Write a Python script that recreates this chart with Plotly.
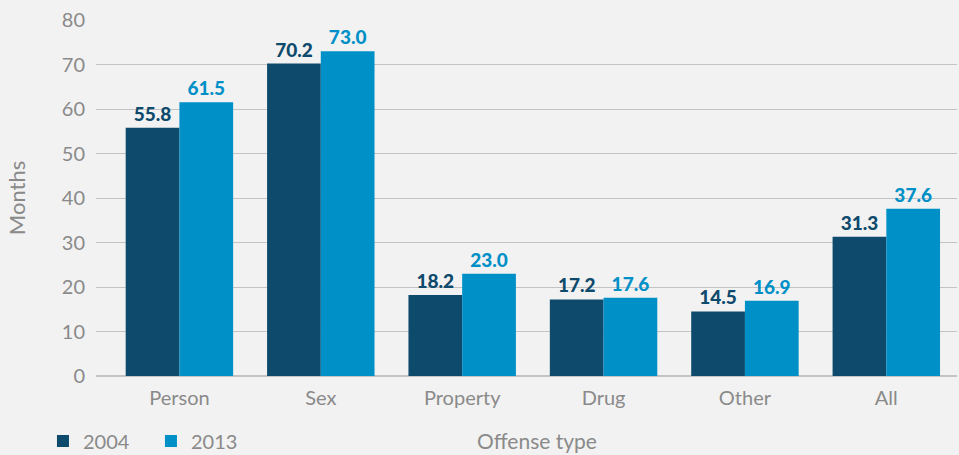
import plotly.graph_objects as go

categories = ["Person", "Sex", "Property", "Drug", "Other", "All"]
values_2004 = [55.8, 70.2, 18.2, 17.2, 14.5, 31.3]
values_2013 = [61.5, 73.0, 23.0, 17.6, 16.9, 37.6]
series_names = ["2004", "2013"]
y_ticks = [0, 10, 20, 30, 40, 50, 60, 70, 80]

dark = "#0e4a6c"
light = "#0090c8"
gray = "#8a8a8a"
bg = "#f2f2f2"

fig = go.Figure()
for name, vals, col in [(series_names[0], values_2004, dark), (series_names[1], values_2013, light)]:
    fig.add_bar(x=categories, y=vals, name=name, showlegend=False,
                marker=dict(color=col, line=dict(width=0)),
                text=[f"{v:.1f}" for v in vals], textposition="outside", cliponaxis=False,
                textfont=dict(family="Lato Black, Lato", size=19, color=col, weight=900))
    # legend swatch
    fig.add_scatter(x=[None], y=[None], mode="markers", name=name,
                    marker=dict(symbol="square", size=17, color=col))

fig.add_annotation(text="Offense type", xref="paper", yref="paper", x=0.512, y=-0.18,
                   xanchor="center", yanchor="middle", showarrow=False,
                   font=dict(family="Lato", size=21, color=gray))

fig.update_layout(
    width=959, height=455,
    margin=dict(l=96, r=2, t=20, b=79),
    paper_bgcolor=bg, plot_bgcolor=bg,
    barmode="group", bargap=0.24, bargroupgap=0,
    font=dict(family="Lato", size=20, color=gray),
    showlegend=True,
    legend=dict(orientation="h", x=-0.0616, xref="paper", yref="container", y=0.031,
                xanchor="left", yanchor="middle",
                font=dict(size=20, color=gray), itemwidth=30, traceorder="normal",
                entrywidth=63, itemsizing="constant",
                bgcolor="rgba(0,0,0,0)"),
    xaxis=dict(automargin=False,
               range=[-0.59, 5.5], showgrid=False, showline=False, ticks="",
               ticklabelstandoff=8, tickfont=dict(size=20, color=gray)),
    yaxis=dict(title=dict(text="Months", font=dict(size=22, color=gray), standoff=30),
               automargin=False,
               range=[0, 80], tickvals=y_ticks, showgrid=True, gridcolor="#c3c3c3", gridwidth=1,
               zeroline=True, zerolinecolor="#c3c3c3", zerolinewidth=1.5,
               showline=False, ticks="", ticklabelstandoff=10,
               tickfont=dict(size=20, color=gray)),
)

fig.write_html("out.html", config={"displayModeBar": False},
               post_script="document.body.style.margin='0';")
